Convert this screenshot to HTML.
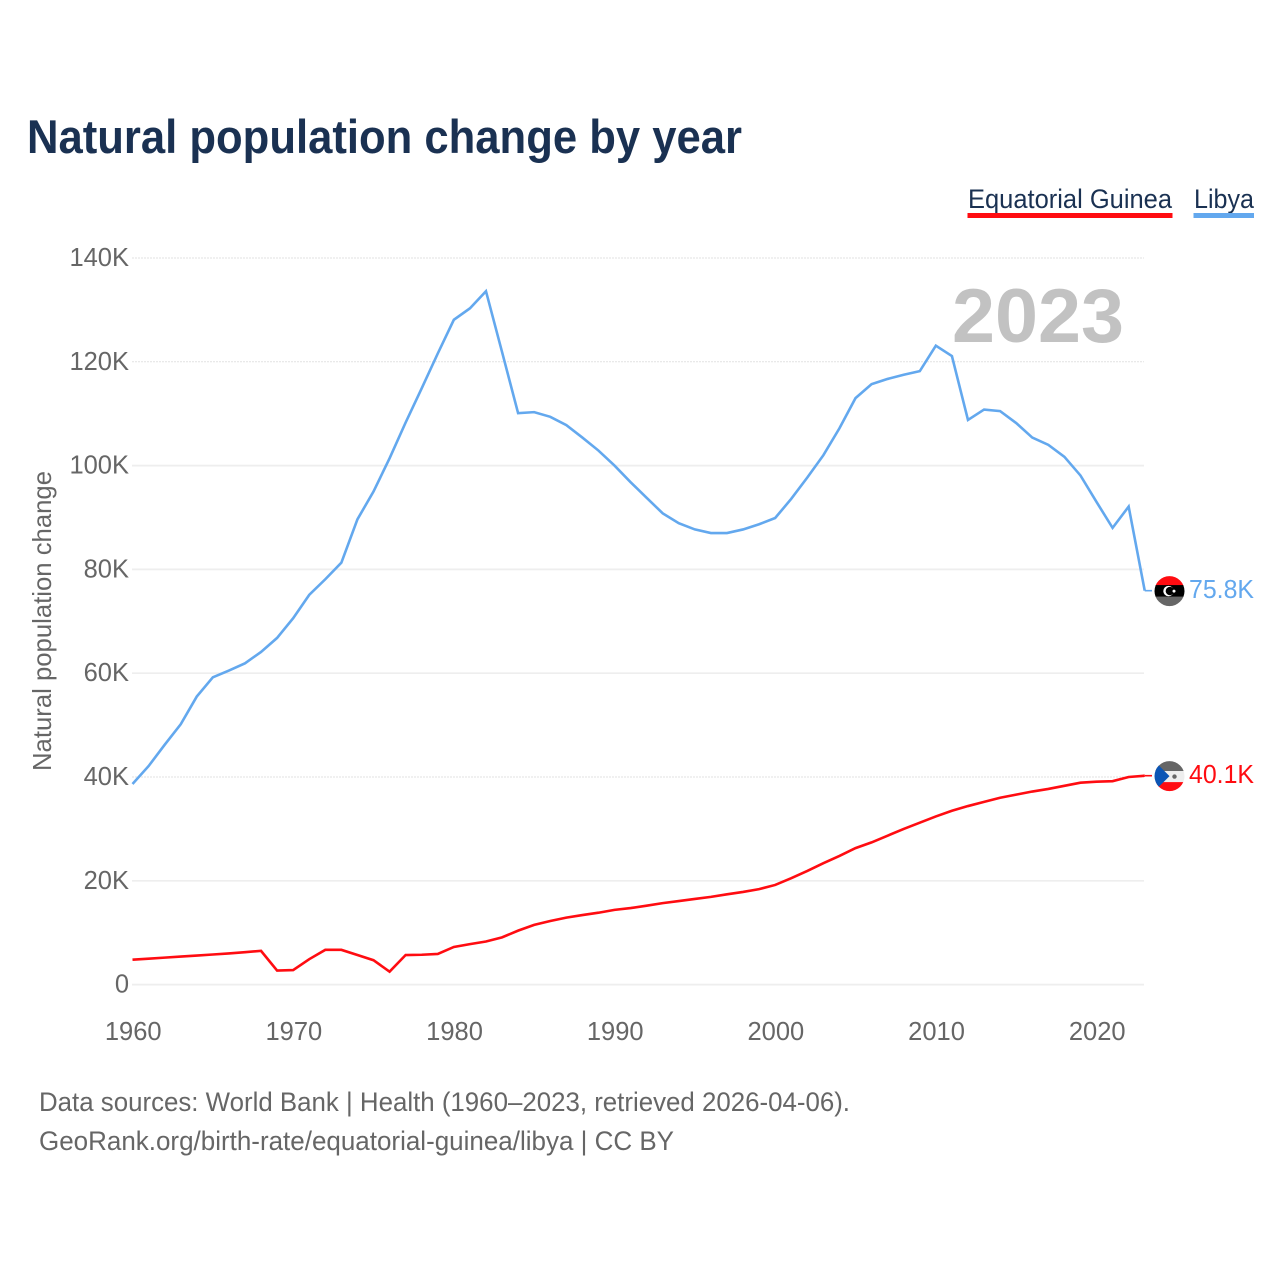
<!DOCTYPE html>
<html lang="en">
<head>
<meta charset="utf-8">
<title>Natural population change by year</title>
<style>
html,body{margin:0;padding:0;background:#fff;width:1280px;height:1280px;overflow:hidden}
svg{display:block;font-family:"Liberation Sans",Arial,sans-serif}
</style>
</head>
<body>
<svg id="chart" xmlns="http://www.w3.org/2000/svg" width="1280" height="1280" viewBox="0 0 1280 1280">
  <defs>
    <clipPath id="flag-clip"><circle cx="0" cy="0" r="15"></circle></clipPath>
  </defs>
  <rect x="0" y="0" width="1280" height="1280" fill="#fff"></rect>
  <text x="27" y="153" font-size="47" font-weight="700" fill="#1a3152" textLength="715" lengthAdjust="spacingAndGlyphs">Natural population change by year</text>

  <g>
    <text x="968" y="208" font-size="27" fill="#1a3152" textLength="204" lengthAdjust="spacingAndGlyphs">Equatorial Guinea</text>
    <rect x="967.5" y="213" width="205" height="5" fill="#ff0c11"></rect>
  </g>
  <g>
    <text x="1194" y="208" font-size="27" fill="#1a3152" textLength="60" lengthAdjust="spacingAndGlyphs">Libya</text>
    <rect x="1193.5" y="213" width="60.5" height="5" fill="#63a8ee"></rect>
  </g>

  <text transform="translate(51,621) rotate(-90)" text-anchor="middle" font-size="26" fill="#666" textLength="300" lengthAdjust="spacingAndGlyphs">Natural population change</text>

  <g id="grid"></g>
  <g id="y-ticks"></g>
  <g id="x-ticks"></g>

  <text x="1124" y="342" text-anchor="end" font-size="76" font-weight="700" fill="#c2c2c2" textLength="172" lengthAdjust="spacingAndGlyphs">2023</text>

  <g id="series"></g>

  <g id="flag-libya">
    <g clip-path="url(#flag-clip)">
      <rect x="-15" y="-16" width="30" height="11" fill="#ff0c11"></rect>
      <rect x="-15" y="-6" width="30" height="12" fill="#000"></rect>
      <rect x="-15" y="5.5" width="30" height="11" fill="#666"></rect>
      <circle cx="-1" cy="0" r="5.2" fill="#fff"></circle>
      <circle cx="0.4" cy="0" r="4.2" fill="#000"></circle>
      <circle cx="4.5" cy="0" r="1.5" fill="#fff"></circle>
    </g>
  </g>
  <g id="flag-eg">
    <g clip-path="url(#flag-clip)">
      <rect x="-15" y="-16" width="30" height="11" fill="#666"></rect>
      <rect x="-15" y="-5" width="30" height="11" fill="#eeeeee"></rect>
      <rect x="-15" y="6" width="30" height="10" fill="#ff0c11"></rect>
      <polygon points="-15,-15 0,0 -15,15" fill="#0b55b5"></polygon>
      <circle cx="5" cy="0.5" r="2.2" fill="#666"></circle>
    </g>
  </g>

  <text x="39" y="1111" font-size="27" fill="#666" textLength="811" lengthAdjust="spacingAndGlyphs">Data sources: World Bank | Health (1960–2023, retrieved 2026-04-06).</text>
  <text x="39" y="1150" font-size="27" fill="#666" textLength="635" lengthAdjust="spacingAndGlyphs">GeoRank.org/birth-rate/equatorial-guinea/libya | CC BY</text>
</svg>
<script>
const years = [1960,1961,1962,1963,1964,1965,1966,1967,1968,1969,1970,1971,1972,1973,1974,1975,1976,1977,1978,1979,1980,1981,1982,1983,1984,1985,1986,1987,1988,1989,1990,1991,1992,1993,1994,1995,1996,1997,1998,1999,2000,2001,2002,2003,2004,2005,2006,2007,2008,2009,2010,2011,2012,2013,2014,2015,2016,2017,2018,2019,2020,2021,2022,2023];
const libyaValues = [38.65,42.1,46.2,50.15,55.5,59.2,60.5,61.9,64.1,66.8,70.6,75.1,78.1,81.3,89.65,95.0,101.4,108.3,114.9,121.6,128.1,130.3,133.6,121.9,110.1,110.3,109.4,107.8,105.4,102.9,100.0,96.8,93.8,90.8,88.9,87.7,87.0,87.0,87.7,88.7,89.9,93.6,97.7,102.0,107.2,113.0,115.7,116.7,117.5,118.2,123.1,121.1,108.8,110.8,110.5,108.2,105.4,104.0,101.7,98.1,93.0,88.0,92.1,75.9];
const equatorialGuineaValues = [4.8,5.0,5.2,5.4,5.6,5.8,6.0,6.25,6.5,2.7,2.8,4.9,6.7,6.7,5.7,4.7,2.5,5.7,5.75,5.9,7.25,7.8,8.3,9.1,10.4,11.5,12.25,12.9,13.4,13.85,14.4,14.75,15.2,15.7,16.1,16.5,16.9,17.4,17.85,18.4,19.2,20.5,21.9,23.4,24.8,26.3,27.4,28.7,30.0,31.2,32.4,33.5,34.4,35.2,36.0,36.6,37.2,37.7,38.3,38.9,39.1,39.2,40.0,40.25];
const yTickValues = [0,20,40,60,80,100,120,140];
const yTickLabels = ["0","20K","40K","60K","80K","100K","120K","140K"];
const xTickValues = [1960,1970,1980,1990,2000,2010,2020];
const endLabels = ["75.8K","40.1K"];

const NS = "http://www.w3.org/2000/svg";
function xScale(year){ return 132.5 + (year - 1960) * 16.067; }
function yScale(v){ return 984.6 - v * 5.19; }
function mk(tag, attrs, parent){
  const el = document.createElementNS(NS, tag);
  for (const k in attrs) el.setAttribute(k, attrs[k]);
  parent.appendChild(el);
  return el;
}
const grid = document.getElementById("grid");
const yTicks = document.getElementById("y-ticks");
const xTicks = document.getElementById("x-ticks");
const seriesG = document.getElementById("series");

yTickValues.forEach(function(v, i){
  const thin = v === 40 || v === 120 || v === 140;
  const attrs = {x1:132, x2:1144, y1:yScale(v), y2:yScale(v), stroke:thin ? "#e2e2e2" : "#eeeeee", "stroke-width":thin ? 1 : 1.7};
  if (thin) attrs["stroke-dasharray"] = "2 1";
  const line = mk("line", attrs, grid);
  
  
  const t = mk("text", {x:129, y:yScale(v)+8, "text-anchor":"end", "font-size":25.5, fill:"#666"}, yTicks);
  
  
  t.textContent = yTickLabels[i];
});
xTickValues.forEach(function(v){
  const t = mk("text", {x:xScale(v)+0.7, y:1040, "text-anchor":"middle", "font-size":25.5, fill:"#666"}, xTicks);
  
  
  t.textContent = String(v);
});
function drawSeries(values, color, lineName, leaderName, labelName, labelText, flagId){
  const pts = values.map(function(v, i){ return xScale(years[i]).toFixed(2) + "," + yScale(v).toFixed(2); }).join(" ");
  const line = mk("polyline", {points:pts, fill:"none", stroke:color, "stroke-width":2.6, "stroke-linejoin":"miter"}, seriesG);
  
  
  const last = values[values.length - 1];
  const lastYear = years[years.length - 1];
  const leader = mk("line", {x1:xScale(lastYear), x2:1152, y1:yScale(last), y2:yScale(last), stroke:color, "stroke-width":1.6}, seriesG);
  
  
  document.getElementById(flagId).setAttribute("transform", "translate(1169.5," + (yScale(last)+0.4).toFixed(2) + ")");
  const t = mk("text", {x:1189, y:yScale(last)+7.2, "font-size":25.5, fill:color, textLength:65, lengthAdjust:"spacingAndGlyphs"}, seriesG);
  
  
  t.textContent = labelText;
}
drawSeries(libyaValues, "#63a8ee", "line-libya", "leader-libya", "end-label-libya", endLabels[0], "flag-libya");
drawSeries(equatorialGuineaValues, "#ff0c11", "line-equatorial-guinea", "leader-equatorial-guinea", "end-label-equatorial-guinea", endLabels[1], "flag-eg");
</script>
</body>
</html>
